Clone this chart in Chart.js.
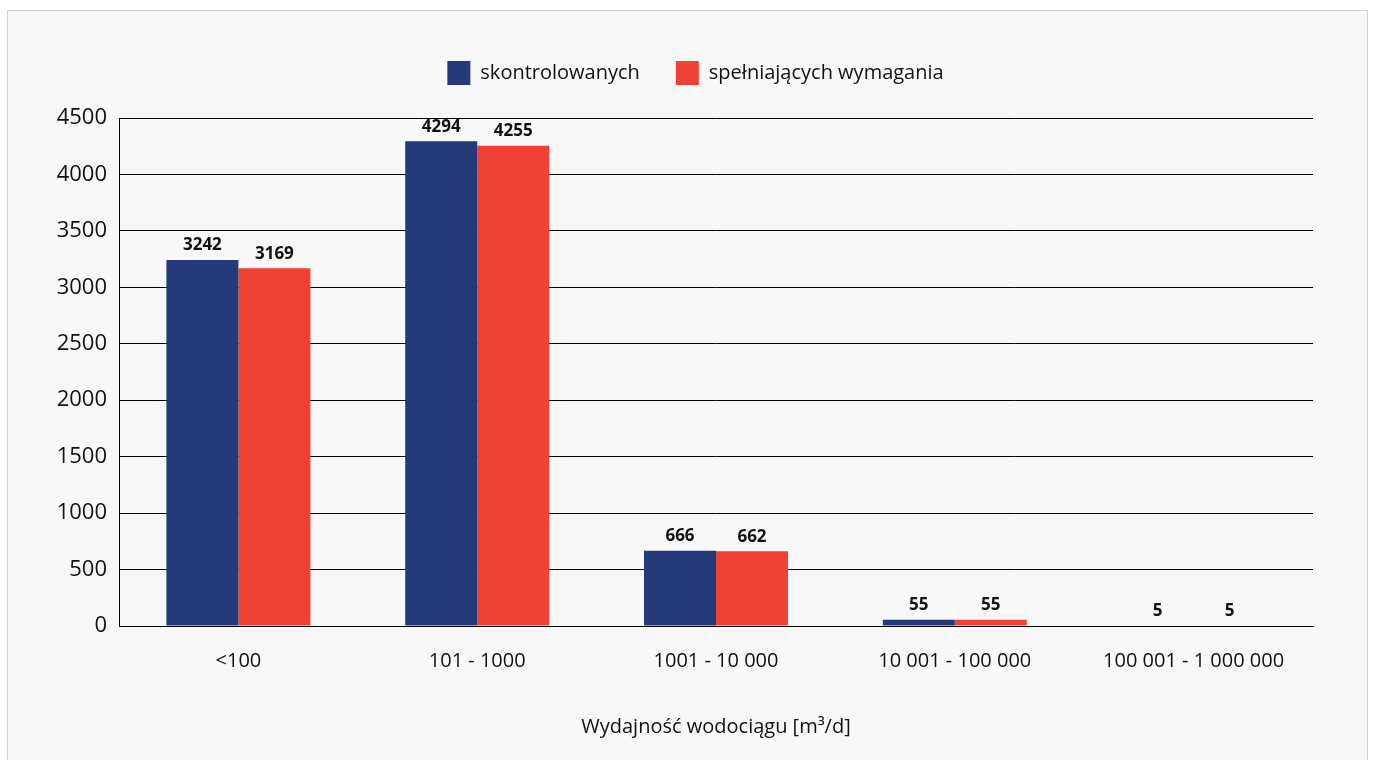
<!DOCTYPE html>
<html><head><meta charset="utf-8">
<script src="https://cdn.jsdelivr.net/npm/chart.js@4"></script>
<style>
html,body{margin:0;padding:0;background:#fff;overflow:hidden}
#box{position:absolute;left:7px;top:10px;width:1361px;height:760px;border:1px solid #d2d2d2;background:#f8f8f8;box-sizing:border-box}
#c{position:absolute;left:0;top:0}
</style></head><body>
<div id="box"></div>
<canvas id="c" width="1373" height="760"></canvas>
<script>
const categories = ['<100', '101 - 1000', '1001 - 10 000', '10 001 - 100 000', '100 001 - 1 000 000'];
const seriesNames = ['skontrolowanych', 'spełniających wymagania'];
const skontrolowanych = [3242, 4294, 666, 55, 5];
const spelniajacych = [3169, 4255, 662, 55, 5];
const yMin = 0, yMax = 4500, yStep = 500;
const axisTitle = 'Wydajność wodociągu [m³/d]';

Chart.defaults.font.family = '"Open Sans", sans-serif';
Chart.defaults.color = '#111';

const valueLabels = {
  id: 'valueLabels',
  afterDatasetsDraw(chart) {
    const ctx = chart.ctx;
    ctx.save();
    ctx.font = 'bold 17px "Open Sans", sans-serif';
    ctx.fillStyle = '#111';
    ctx.textAlign = 'center';
    ctx.textBaseline = 'bottom';
    chart.data.datasets.forEach((ds, i) => {
      chart.getDatasetMeta(i).data.forEach((bar, j) => {
        ctx.fillText(String(ds.data[j]), bar.x, bar.y - 6);
      });
    });
    ctx.restore();
  }
};
const legendSpace = {
  id: 'legendSpace',
  beforeInit(chart) {
    const fit = chart.legend.fit;
    chart.legend.fit = function () { fit.call(this); this.height += 23; };
  },
  afterLayout(chart) {
    chart.legend.left += 39;
    chart.legend.right += 39;
  }
};

new Chart(document.getElementById('c'), {
  type: 'bar',
  data: {
    labels: categories,
    datasets: [
      { label: seriesNames[0], data: skontrolowanych, backgroundColor: '#243a7a', categoryPercentage: 0.603, barPercentage: 1.0 },
      { label: seriesNames[1], data: spelniajacych, backgroundColor: '#ef4136', categoryPercentage: 0.603, barPercentage: 1.0 }
    ]
  },
  options: {
    responsive: false,
    animation: false,
    layout: { padding: { top: 25, left: 0, right: 60, bottom: 18 } },
    plugins: {
      legend: {
        position: 'top',
        labels: { boxWidth: 23, boxHeight: 24, padding: 36, font: { size: 20 }, color: '#111' }
      },
      tooltip: { enabled: false }
    },
    scales: {
      x: {
        grid: { display: false },
        border: { color: '#000', width: 1 },
        ticks: { font: { size: 20 }, padding: 15, color: '#111' },
        title: { display: true, text: axisTitle, font: { size: 20 }, color: '#111', padding: { top: 0, bottom: 3 } },
        afterFit(s) { s.height = 760 - 18 - 626; }
      },
      y: {
        min: yMin, max: yMax,
        ticks: { stepSize: yStep, font: { size: 22 }, padding: 12, color: '#111', callback: (v) => String(v) },
        grid: { color: '#000', lineWidth: 1, drawTicks: false },
        border: { color: '#000', width: 1 },
        afterFit(s) { s.width = 119; }
      }
    }
  },
  plugins: [valueLabels, legendSpace]
});
</script>
</body></html>
